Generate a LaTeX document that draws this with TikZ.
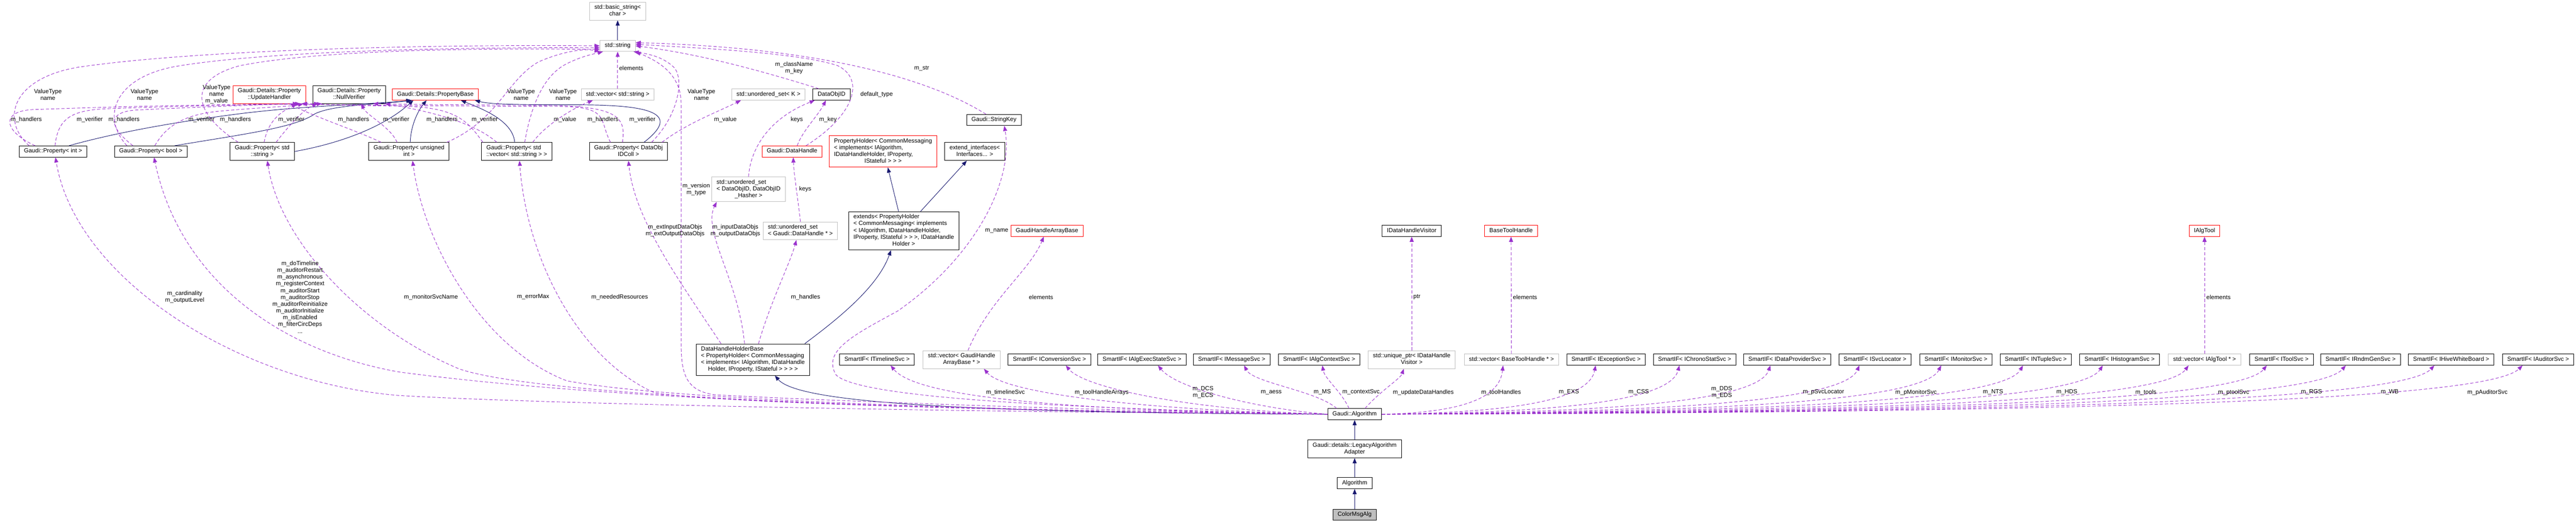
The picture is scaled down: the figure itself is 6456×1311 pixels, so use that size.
\documentclass[tikz,border=0pt]{standalone}
\usepackage{fontspec}
\setmainfont{Liberation Sans}
\usetikzlibrary{arrows.meta,calc}

\definecolor{edgeblue}{HTML}{191970}
\definecolor{edgepurple}{HTML}{9A32CD}
\definecolor{bordred}{HTML}{FF0000}
\definecolor{bordgrey}{HTML}{BFBFBF}
\definecolor{leafgrey}{HTML}{BFBFBF}

\newcommand{\cls}[1]{\begin{tabular}{@{}l@{}}#1\end{tabular}}
\newcommand{\lastln}[1]{\multicolumn{1}{@{}c@{}}{#1}}

\tikzset{
  klass/.style={draw=black, fill=white, line width=0.6pt, inner xsep=6pt, inner ysep=2.75pt, font=\fontsize{7.45}{8.5}\selectfont},
  extklass/.style={klass, draw=bordgrey},
  cutklass/.style={klass, draw=bordred},
  lbl/.style={font=\fontsize{7.45}{8.5}\selectfont, align=center, inner sep=0pt},
  inh/.style={draw=edgeblue, line width=0.6pt, -{Triangle[length=6.5pt,width=5pt]}},
  use/.style={draw=edgepurple, line width=0.6pt, dash pattern=on 4pt off 2.5pt, -{Triangle[length=6.5pt,width=5pt]}},
}

\begin{document}
\begin{tikzpicture}[x=0.5pt, y=-0.5pt]
\useasboundingbox (0,0) rectangle (6456,1311);

\node[extklass] (bstr) at (1548,28) {\cls{std::basic\_string<\\ \lastln{char >}}};
\node[extklass] (str) at (1548,115) {\cls{std::string}};

\node[cutklass] (uph) at (675,237) {\cls{Gaudi::Details::Property\\ \lastln{::UpdateHandler}}};
\node[klass] (nver) at (875,237) {\cls{Gaudi::Details::Property\\ \lastln{::NullVerifier}}};
\node[cutklass] (pbase) at (1091,237) {\cls{Gaudi::Details::PropertyBase}};
\node[extklass] (vstr) at (1548,237) {\cls{std::vector< std::string >}};
\node[extklass] (uset) at (1926,237) {\cls{std::unordered\_set< K >}};
\node[klass] (doid) at (2084,237) {\cls{DataObjID}};
\node[klass] (skey) at (2491,301) {\cls{Gaudi::StringKey}};

\node[klass] (pint) at (133,380) {\cls{Gaudi::Property< int >}};
\node[klass] (pbool) at (378,380) {\cls{Gaudi::Property< bool >}};
\node[klass] (pstr) at (657,380) {\cls{Gaudi::Property< std\\ \lastln{::string >}}};
\node[klass] (puint) at (1025,380) {\cls{Gaudi::Property< unsigned\\ \lastln{int >}}};
\node[klass] (pvstr) at (1295,380) {\cls{Gaudi::Property< std\\ \lastln{::vector< std::string > >}}};
\node[klass] (pcoll) at (1575,380) {\cls{Gaudi::Property< DataObj\\ \lastln{IDColl >}}};
\node[cutklass] (dh) at (1985,380) {\cls{Gaudi::DataHandle}};
\node[cutklass] (pholder) at (2213,380) {\cls{PropertyHolder< CommonMessaging\\ < implements< IAlgorithm,\\ IDataHandleHolder, IProperty,\\ \lastln{IStateful > > >}}};
\node[klass] (extif) at (2443,380) {\cls{extend\_interfaces<\\ \lastln{Interfaces... >}}};

\node[extklass] (hset) at (1876,475) {\cls{std::unordered\_set\\ < DataObjID, DataObjID\\ \lastln{\_Hasher >}}};
\node[extklass] (dhset) at (2006,579) {\cls{std::unordered\_set\\ < Gaudi::DataHandle * >}};
\node[klass] (ext) at (2265,579) {\cls{extends< PropertyHolder\\ < CommonMessaging< implements\\ < IAlgorithm, IDataHandleHolder,\\ IProperty, IStateful > > >, IDataHandle\\ \lastln{Holder >}}};
\node[cutklass] (ghab) at (2624,579) {\cls{GaudiHandleArrayBase}};
\node[klass] (dhv) at (3538,579) {\cls{IDataHandleVisitor}};
\node[cutklass] (bth) at (3787,579) {\cls{BaseToolHandle}};
\node[cutklass] (ialg) at (5525,579) {\cls{IAlgTool}};

\node[klass] (dhhb) at (1887,902) {\cls{DataHandleHolderBase\\ < PropertyHolder< CommonMessaging\\ < implements< IAlgorithm, IDataHandle\\ \lastln{Holder, IProperty, IStateful > > > >}}};
\node[klass] (stl) at (2198,902) {\cls{SmartIF< ITimelineSvc >}};
\node[extklass] (vghab) at (2410,902) {\cls{std::vector< GaudiHandle\\ \lastln{ArrayBase * >}}};
\node[klass] (sconv) at (2630,902) {\cls{SmartIF< IConversionSvc >}};
\node[klass] (saess) at (2862,902) {\cls{SmartIF< IAlgExecStateSvc >}};
\node[klass] (smsg) at (3087,902) {\cls{SmartIF< IMessageSvc >}};
\node[klass] (sctx) at (3306,902) {\cls{SmartIF< IAlgContextSvc >}};
\node[extklass] (uptr) at (3538,902) {\cls{std::unique\_ptr< IDataHandle\\ \lastln{Visitor >}}};
\node[extklass] (vbth) at (3788,902) {\cls{std::vector< BaseToolHandle * >}};
\node[klass] (sexc) at (4025,902) {\cls{SmartIF< IExceptionSvc >}};
\node[klass] (schrono) at (4247,902) {\cls{SmartIF< IChronoStatSvc >}};
\node[klass] (sdp) at (4479,902) {\cls{SmartIF< IDataProviderSvc >}};
\node[klass] (ssvc) at (4699,902) {\cls{SmartIF< ISvcLocator >}};
\node[klass] (smon) at (4902,902) {\cls{SmartIF< IMonitorSvc >}};
\node[klass] (snt) at (5102,902) {\cls{SmartIF< INTupleSvc >}};
\node[klass] (shist) at (5312,902) {\cls{SmartIF< IHistogramSvc >}};
\node[extklass] (vtool) at (5525,902) {\cls{std::vector< IAlgTool * >}};
\node[klass] (stool) at (5718,902) {\cls{SmartIF< IToolSvc >}};
\node[klass] (srndm) at (5916,902) {\cls{SmartIF< IRndmGenSvc >}};
\node[klass] (swb) at (6143,902) {\cls{SmartIF< IHiveWhiteBoard >}};
\node[klass] (saud) at (6361,902) {\cls{SmartIF< IAuditorSvc >}};

\node[klass] (galg) at (3395,1039) {\cls{Gaudi::Algorithm}};
\node[klass] (legacy) at (3395,1126) {\cls{Gaudi::details::LegacyAlgorithm\\ \lastln{Adapter}}};
\node[klass] (alg) at (3395,1212) {\cls{Algorithm}};
\node[klass, fill=leafgrey] (cmsg) at (3395,1291) {\cls{ColorMsgAlg}};

\draw[inh] (str.north) -- (bstr.south);
\draw[inh] ($(pint.north)+(40,0)$) .. controls (300,330) and (450,305) .. (580,288) .. controls (750,265) and (930,262) .. ($(pbase.south)+(-60,0)$);
\draw[inh] ($(pbool.north)+(60,0)$) .. controls (620,335) and (740,320) .. (790,285) .. controls (840,262) and (950,262) .. ($(pbase.south)+(-58,0)$);
\draw[inh] (pstr.east) .. controls (850,360) and (960,320) .. ($(pbase.south)+(-55,0)$);
\draw[inh] ($(puint.north)+(3,0)$) .. controls (1030,310) and (1050,275) .. ($(pbase.south)+(-22,0)$);
\draw[inh] ($(pvstr.north)+(-5,0)$) .. controls (1285,300) and (1200,270) .. ($(pbase.south)+(64,0)$);
\draw[inh] ($(pcoll.north)+(39,0)$) .. controls (1700,290) and (1650,263) .. (1450,263) .. controls (1300,263) and (1230,262) .. ($(pbase.south)+(99,0)$);
\draw[inh] ($(ext.north)+(-13,0)$) -- ($(pholder.south)+(12,0)$);
\draw[inh] ($(ext.north)+(42,0)$) -- ($(extif.south)+(-20,0)$);
\draw[inh] ($(dhhb.north)+(130,0)$) .. controls (2100,800) and (2200,720) .. ($(ext.south)+(-32,0)$);
\draw[inh] (galg.west) .. controls (2400,1035) and (2000,1010) .. ($(dhhb.south)+(55,0)$);
\draw[inh] (legacy.north) -- (galg.south);
\draw[inh] (alg.north) -- (legacy.south);
\draw[inh] (cmsg.north) -- (alg.south);

\draw[use] ($(pint.north)+(-60,0)$) .. controls (0,300) and (30,195) .. (200,168) .. controls (550,118) and (1200,112) .. (str.west);
\draw[use] ($(pint.north)+(-45,0)$) .. controls (10,330) and (0,280) .. (80,275) .. controls (350,265) and (600,262) .. ($(uph.south)+(72,0)$);
\draw[use] ($(pint.north)+(5,0)$) .. controls (145,300) and (175,278) .. (260,273) .. controls (500,264) and (700,262) .. ($(nver.south)+(-75,0)$);
\draw[use] ($(pbool.north)+(-60,0)$) .. controls (250,290) and (290,190) .. (450,165) .. controls (700,125) and (1200,118) .. ($(str.west)+(0,5)$);
\draw[use] ($(pbool.north)+(-45,0)$) .. controls (275,320) and (265,282) .. (340,276) .. controls (550,266) and (680,262) .. ($(uph.south)+(78,0)$);
\draw[use] ($(pbool.north)+(10,0)$) .. controls (420,310) and (470,285) .. (560,278) .. controls (650,270) and (760,264) .. ($(nver.south)+(-68,0)$);
\draw[use] ($(pstr.north)+(-60,0)$) .. controls (480,280) and (470,200) .. (600,165) .. controls (800,125) and (1200,120) .. ($(str.west)+(0,9)$);
\draw[use] ($(pstr.north)+(5,0)$) .. controls (670,310) and (700,275) .. ($(uph.south)+(85,0)$);
\draw[use] ($(pstr.north)+(35,0)$) .. controls (720,320) and (760,275) .. ($(nver.south)+(-80,0)$);
\draw[use] ($(puint.north)+(-70,0)$) .. controls (900,330) and (780,290) .. ($(uph.south)+(52,0)$);
\draw[use] ($(puint.north)+(-30,0)$) .. controls (980,320) and (920,290) .. ($(nver.south)+(30,0)$);
\draw[use] ($(puint.north)+(95,0)$) .. controls (1250,300) and (1270,200) .. (1350,155) .. controls (1420,125) and (1470,122) .. (str.south west);
\draw[use] ($(pvstr.north)+(-85,0)$) .. controls (1170,300) and (1140,268) .. (1000,266) .. controls (900,265) and (800,262) .. ($(uph.south)+(82,0)$);
\draw[use] ($(pvstr.north)+(-50,0)$) .. controls (1180,300) and (1050,275) .. ($(nver.south)+(90,0)$);
\draw[use] ($(pvstr.north)+(20,0)$) .. controls (1330,270) and (1360,190) .. (1420,160) .. controls (1460,140) and (1490,135) .. ($(str.south west)+(8,0)$);
\draw[use] ($(pvstr.north)+(40,0)$) .. controls (1370,310) and (1440,270) .. ($(vstr.south)+(-62,0)$);
\draw[use] ($(pcoll.north)+(-45,0)$) .. controls (1500,300) and (1530,268) .. (1400,267) .. controls (1100,266) and (850,264) .. ($(uph.south)+(80,0)$);
\draw[use] ($(pcoll.north)+(-15,0)$) .. controls (1570,290) and (1545,265) .. (1350,264) .. controls (1150,263) and (1000,262) .. ($(nver.south)+(60,0)$);
\draw[use] ($(pcoll.north)+(58,0)$) .. controls (1700,290) and (1715,200) .. (1690,170) .. controls (1660,140) and (1620,135) .. ($(str.south east)+(-5,0)$);
\draw[use] ($(pcoll.north)+(84,0)$) .. controls (1720,310) and (1800,280) .. ($(uset.south)+(-69,0)$);
\draw[use] (vstr.north) -- (str.south);

\draw[use] ($(doid.north)+(-32,0)$) .. controls (1900,175) and (1750,135) .. (str.east);
\draw[use] ($(dh.north)+(35,0)$) .. controls (2140,290) and (2170,200) .. (2100,165) .. controls (2000,130) and (1700,118) .. ($(str.east)+(0,-4)$);
\draw[use] ($(skey.north)+(-20,0)$) .. controls (2300,180) and (2000,118) .. ($(str.east)+(0,-8)$);
\draw[use] ($(dh.north)+(13,0)$) .. controls (2010,330) and (2050,290) .. ($(doid.south)+(-14,0)$);
\draw[use] (hset.north) .. controls (1880,380) and (1920,300) .. ($(doid.south)+(-42,0)$);
\draw[use] (dhset.north) .. controls (2000,500) and (1990,440) .. ($(dh.south)+(3,0)$);
\draw[use] ($(dhhb.north)+(14,0)$) .. controls (1930,760) and (1980,660) .. ($(dhset.south)+(-10,0)$);
\draw[use] ($(dhhb.north)+(-21,0)$) .. controls (1850,700) and (1760,580) .. ($(hset.south)+(-80,0)$);
\draw[use] ($(dhhb.north)+(-80,0)$) .. controls (1700,700) and (1590,550) .. (pcoll.south);
\draw[use] ($(vghab.north)+(16,0)$) .. controls (2480,750) and (2580,680) .. ($(ghab.south)+(-8,0)$);
\draw[use] (uptr.north) -- (dhv.south);
\draw[use] (vbth.north) -- (bth.south);
\draw[use] (vtool.north) -- (ialg.south);

\draw[use] (galg.west) .. controls (2700,1030) and (1950,1000) .. (1790,990) .. controls (1720,980) and (1707,940) .. (1707,860) -- (1707,260) .. controls (1707,180) and (1640,150) .. (str.south east);
\draw[use] (galg.west) .. controls (2700,1025) and (2150,1000) .. (2095,940) .. controls (2060,880) and (2140,840) .. (2250,780) .. controls (2450,640) and (2540,450) .. ($(skey.south)+(26,0)$);
\draw[use] (galg.west) .. controls (2200,1032) and (1300,1010) .. (1000,992) .. controls (600,960) and (190,700) .. ($(pint.south)+(6,0)$);
\draw[use] (galg.west) .. controls (2300,1030) and (1500,1000) .. (1000,933) .. controls (700,880) and (450,700) .. ($(pbool.south)+(8,0)$);
\draw[use] (galg.west) .. controls (2300,1030) and (1350,995) .. (1150,925) .. controls (900,820) and (700,600) .. ($(pstr.south)+(13,0)$);
\draw[use] (galg.west) .. controls (2400,1030) and (1650,1000) .. (1420,955) .. controls (1200,870) and (1060,600) .. ($(puint.south)+(9,0)$);
\draw[use] (galg.west) .. controls (2450,1030) and (1800,1010) .. (1640,985) .. controls (1450,900) and (1320,650) .. ($(pvstr.south)+(7,0)$);

\draw[use] (galg.west) .. controls (2700,1030) and (2300,1000) .. ($(stl.south)+(34,0)$);
\draw[use] (galg.west) .. controls (2900,1030) and (2520,990) .. ($(vghab.south)+(56,0)$);
\draw[use] (galg.west) .. controls (3000,1030) and (2720,975) .. ($(sconv.south)+(41,0)$);
\draw[use] (galg.west) .. controls (3150,1025) and (2950,975) .. ($(saess.south)+(40,0)$);
\draw[use] ($(galg.north)+(-45,0)$) .. controls (3300,980) and (3140,960) .. ($(smsg.south)+(31,0)$);
\draw[use] ($(galg.north)+(-14,0)$) .. controls (3360,980) and (3320,950) .. ($(sctx.south)+(8,0)$);
\draw[use] ($(galg.north)+(26,0)$) .. controls (3460,980) and (3510,950) .. ($(uptr.south)+(-20,0)$);
\draw[use] (galg.east) .. controls (3660,1035) and (3758,1000) .. ($(vbth.south)+(-21,0)$);
\draw[use] (galg.east) .. controls (3811,1035) and (3983,1000) .. ($(sexc.south)+(-26,0)$);
\draw[use] (galg.east) .. controls (3947,1035) and (4187,1000) .. ($(schrono.south)+(-38,0)$);
\draw[use] (galg.east) .. controls (4095,1035) and (4408,1000) .. ($(sdp.south)+(-42,0)$);
\draw[use] (galg.east) .. controls (4240,1035) and (4624,1000) .. ($(ssvc.south)+(-39,0)$);
\draw[use] (galg.east) .. controls (4374,1035) and (4823,1000) .. ($(smon.south)+(-37,0)$);
\draw[use] (galg.east) .. controls (4507,1035) and (5022,1000) .. ($(snt.south)+(-32,0)$);
\draw[use] (galg.east) .. controls (4637,1035) and (5216,1000) .. ($(shist.south)+(-42,0)$);
\draw[use] (galg.east) .. controls (4777,1035) and (5424,1000) .. ($(vtool.south)+(-40,0)$);
\draw[use] (galg.east) .. controls (4904,1035) and (5614,1000) .. ($(stool.south)+(-37,0)$);
\draw[use] (galg.east) .. controls (5033,1035) and (5806,1000) .. ($(srndm.south)+(-37,0)$);
\draw[use] (galg.east) .. controls (5177,1035) and (6022,1000) .. ($(swb.south)+(-42,0)$);
\draw[use] (galg.east) .. controls (5321,1035) and (6236,1000) .. ($(saud.south)+(-39,0)$);

\node[lbl] (lvtint) at (120,237) {ValueType\\name};
\node[lbl] (lvtbool) at (362,237) {ValueType\\name};
\node[lbl] (lvtstr) at (543,237) {ValueType\\name\\m\_value};
\node[lbl] (lvtuint) at (1306,237) {ValueType\\name};
\node[lbl] (lvtvstr) at (1411,237) {ValueType\\name};
\node[lbl] (lvtcoll) at (1758,237) {ValueType\\name};
\node[lbl] (lhdint) at (66,300) {m\_handlers};
\node[lbl] (lvfint) at (225,300) {m\_verifier};
\node[lbl] (lhdbool) at (311,300) {m\_handlers};
\node[lbl] (lvfbool) at (505,300) {m\_verifier};
\node[lbl] (lhdstr) at (590,300) {m\_handlers};
\node[lbl] (lvfstr) at (730,300) {m\_verifier};
\node[lbl] (lhduint) at (886,300) {m\_handlers};
\node[lbl] (lvfuint) at (993,300) {m\_verifier};
\node[lbl] (lhdvstr) at (1108,300) {m\_handlers};
\node[lbl] (lvfvstr) at (1215,300) {m\_verifier};
\node[lbl] (lvalvstr) at (1416,300) {m\_value};
\node[lbl] (lhdcoll) at (1511,300) {m\_handlers};
\node[lbl] (lvfcoll) at (1610,300) {m\_verifier};
\node[lbl] (lvalcoll) at (1818,300) {m\_value};
\node[lbl] (lelvstr) at (1582,171) {elements};
\node[lbl] (lclass) at (1990,170) {m\_className\\m\_key};
\node[lbl] (lmstr) at (2310,171) {m\_str};
\node[lbl] (ldeftype) at (2197,237) {default\_type};
\node[lbl] (lkeysid) at (1997,300) {keys};
\node[lbl] (lkeydh) at (2075,300) {m\_key};
\node[lbl] (lversion) at (1745,475) {m\_version\\m\_type};
\node[lbl] (lkeysdh) at (2018,475) {keys};
\node[lbl] (lextio) at (1692,578) {m\_extInputDataObjs\\m\_extOutputDataObjs};
\node[lbl] (lio) at (1843,578) {m\_inputDataObjs\\m\_outputDataObjs};
\node[lbl] (lhandles) at (2019,745) {m\_handles};
\node[lbl] (lname) at (2498,579) {m\_name};
\node[lbl] (lelghab) at (2609,745) {elements};
\node[lbl] (lptr) at (3551,745) {ptr};
\node[lbl] (lelbth) at (3822,745) {elements};
\node[lbl] (leltool) at (5560,745) {elements};
\node[lbl] (lcard) at (463,745) {m\_cardinality\\m\_outputLevel};
\node[lbl] (lbools) at (752,745) {m\_doTimeline\\m\_auditorRestart\\m\_asynchronous\\m\_registerContext\\m\_auditorStart\\m\_auditorStop\\m\_auditorReinitialize\\m\_auditorInitialize\\m\_isEnabled\\m\_filterCircDeps\\...};
\node[lbl] (lmonname) at (1080,745) {m\_monitorSvcName};
\node[lbl] (lerrmax) at (1336,745) {m\_errorMax};
\node[lbl] (lneeded) at (1553,745) {m\_neededResources};

\node[lbl] (ltimeline) at (2520,984) {m\_timelineSvc};
\node[lbl] (ltharr) at (2761,984) {m\_toolHandleArrays};
\node[lbl] (ldcs) at (3015,984) {m\_DCS\\m\_ECS};
\node[lbl] (laess) at (3186,984) {m\_aess};
\node[lbl] (lms) at (3314,984) {m\_MS};
\node[lbl] (lctx) at (3411,984) {m\_contextSvc};
\node[lbl] (lupd) at (3567,984) {m\_updateDataHandles};
\node[lbl] (lthandles) at (3762,984) {m\_toolHandles};
\node[lbl] (lexs) at (3932,984) {m\_EXS};
\node[lbl] (lcss) at (4107,984) {m\_CSS};
\node[lbl] (ldds) at (4315,984) {m\_DDS\\m\_EDS};
\node[lbl] (lsvcloc) at (4570,984) {m\_pSvcLocator};
\node[lbl] (lmonsvc) at (4802,984) {m\_pMonitorSvc};
\node[lbl] (lnts) at (4995,984) {m\_NTS};
\node[lbl] (lhds) at (5180,984) {m\_HDS};
\node[lbl] (ltools) at (5378,984) {m\_tools};
\node[lbl] (ltoolsvc) at (5598,984) {m\_ptoolSvc};
\node[lbl] (lrgs) at (5793,984) {m\_RGS};
\node[lbl] (lwb) at (5989,984) {m\_WB};
\node[lbl] (lauditor) at (6234,984) {m\_pAuditorSvc};
\end{tikzpicture}
\end{document}
